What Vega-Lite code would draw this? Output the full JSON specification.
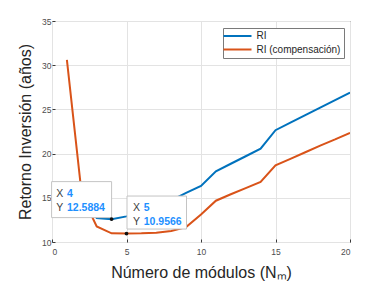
{
  "$schema": "https://vega.github.io/schema/vega-lite/v6.json",
  "width": 298,
  "height": 221,
  "autosize": {"type": "none"},
  "padding": {"left": 52, "top": 21, "right": 32, "bottom": 51},
  "background": "white",
  "config": {
    "font": "Liberation Sans",
    "view": {"stroke": "#3a3a3a", "strokeWidth": 1}
  },
  "datasets": {
    "series": [
      {"n": 2, "valor": 16.0, "serie": "RI"},
      {"n": 3, "valor": 12.7, "serie": "RI"},
      {"n": 4, "valor": 12.5884, "serie": "RI"},
      {"n": 5, "valor": 12.9, "serie": "RI"},
      {"n": 6, "valor": 13.35, "serie": "RI"},
      {"n": 7, "valor": 13.95, "serie": "RI"},
      {"n": 8, "valor": 14.7, "serie": "RI"},
      {"n": 9, "valor": 15.55, "serie": "RI"},
      {"n": 10, "valor": 16.35, "serie": "RI"},
      {"n": 11, "valor": 18.0, "serie": "RI"},
      {"n": 12, "valor": 18.85, "serie": "RI"},
      {"n": 13, "valor": 19.7, "serie": "RI"},
      {"n": 14, "valor": 20.55, "serie": "RI"},
      {"n": 15, "valor": 22.65, "serie": "RI"},
      {"n": 16, "valor": 23.5, "serie": "RI"},
      {"n": 17, "valor": 24.35, "serie": "RI"},
      {"n": 18, "valor": 25.2, "serie": "RI"},
      {"n": 19, "valor": 26.05, "serie": "RI"},
      {"n": 20, "valor": 26.9, "serie": "RI"},
      {"n": 1, "valor": 30.6, "serie": "RI (compensación)"},
      {"n": 2, "valor": 15.3, "serie": "RI (compensación)"},
      {"n": 3, "valor": 11.75, "serie": "RI (compensación)"},
      {"n": 4, "valor": 10.98, "serie": "RI (compensación)"},
      {"n": 5, "valor": 10.9566, "serie": "RI (compensación)"},
      {"n": 6, "valor": 10.98, "serie": "RI (compensación)"},
      {"n": 7, "valor": 11.05, "serie": "RI (compensación)"},
      {"n": 8, "valor": 11.25, "serie": "RI (compensación)"},
      {"n": 9, "valor": 11.7, "serie": "RI (compensación)"},
      {"n": 10, "valor": 13.1, "serie": "RI (compensación)"},
      {"n": 11, "valor": 14.67, "serie": "RI (compensación)"},
      {"n": 12, "valor": 15.4, "serie": "RI (compensación)"},
      {"n": 13, "valor": 16.1, "serie": "RI (compensación)"},
      {"n": 14, "valor": 16.8, "serie": "RI (compensación)"},
      {"n": 15, "valor": 18.67, "serie": "RI (compensación)"},
      {"n": 16, "valor": 19.4, "serie": "RI (compensación)"},
      {"n": 17, "valor": 20.15, "serie": "RI (compensación)"},
      {"n": 18, "valor": 20.9, "serie": "RI (compensación)"},
      {"n": 19, "valor": 21.6, "serie": "RI (compensación)"},
      {"n": 20, "valor": 22.35, "serie": "RI (compensación)"}
    ],
    "tips": [
      {"tip": "A", "n": 4, "valor": 12.5884},
      {"tip": "B", "n": 5, "valor": 10.9566}
    ]
  },
  "encoding": {
    "x": {
      "field": "n",
      "type": "quantitative",
      "scale": {"domain": [0, 20], "nice": false},
      "axis": {
        "values": [0, 5, 10, 15, 20],
        "format": "d",
        "grid": true,
        "gridColor": "#e3e3e3",
        "domain": false,
        "ticks": true,
        "tickSize": -3,
        "tickColor": "#3a3a3a",
        "labelFontSize": 8.5,
        "labelColor": "#4d4d4d",
        "labelPadding": 8,
        "title": "Número de módulos (Nₘ)",
        "titleFontSize": 16,
        "titleFontWeight": "normal",
        "titleColor": "#262626",
        "titleBaseline": "alphabetic",
        "titleX": 149,
        "titleY": 35
      }
    },
    "y": {
      "field": "valor",
      "type": "quantitative",
      "scale": {"domain": [10, 35], "nice": false, "zero": false},
      "axis": {
        "values": [10, 15, 20, 25, 30, 35],
        "grid": true,
        "gridColor": "#e3e3e3",
        "domain": false,
        "ticks": true,
        "tickSize": -3,
        "tickColor": "#3a3a3a",
        "labelFontSize": 8.5,
        "labelColor": "#4d4d4d",
        "labelPadding": 4,
        "title": "Retorno Inversión (años)",
        "titleFontSize": 16,
        "titleFontWeight": "normal",
        "titleColor": "#262626",
        "titleBaseline": "alphabetic",
        "titleAngle": -90,
        "titleX": -22,
        "titleY": 110.5
      }
    }
  },
  "layer": [
    {
      "data": {"name": "series"},
      "mark": {"type": "line", "strokeWidth": 2, "clip": true},
      "encoding": {
        "color": {
          "field": "serie",
          "type": "nominal",
          "scale": {"domain": ["RI", "RI (compensación)"], "range": ["#0072BD", "#D95319"]},
          "legend": {
            "orient": "none",
            "legendX": 171,
            "legendY": 7,
            "title": null,
            "fillColor": "white",
            "strokeColor": "#7a7a7a",
            "padding": 3,
            "symbolType": "M-4,0H4",
            "symbolSize": 49,
            "symbolStrokeWidth": 2,
            "symbolOffset": 6.5,
            "labelOffset": 14,
            "labelFontSize": 10,
            "labelColor": "#262626",
            "rowPadding": 3.5
          }
        }
      }
    },
    {
      "data": {"name": "tips"},
      "transform": [{"filter": "datum.tip === 'A'"}],
      "mark": {"type": "rect", "fill": "white", "stroke": "#c4c4c4", "strokeWidth": 1, "xOffset": -60, "x2Offset": 0, "yOffset": -37.5, "y2Offset": -1.5},
      "encoding": {"x2": {"field": "n"}, "y2": {"field": "valor"}}
    },
    {
      "data": {"name": "tips"},
      "transform": [{"filter": "datum.tip === 'B'"}],
      "mark": {"type": "rect", "fill": "white", "stroke": "#c4c4c4", "strokeWidth": 1, "xOffset": 0.5, "x2Offset": 60, "yOffset": -37.5, "y2Offset": -4.5},
      "encoding": {"x2": {"field": "n"}, "y2": {"field": "valor"}}
    },
    {
      "data": {"name": "tips"},
      "transform": [{"filter": "datum.tip === 'A'"}],
      "mark": {"type": "text", "text": "X", "align": "left", "baseline": "alphabetic", "dx": -55.3, "dy": -22, "fontSize": 10.5, "color": "#404040"}
    },
    {
      "data": {"name": "tips"},
      "transform": [{"filter": "datum.tip === 'A'"}],
      "mark": {"type": "text", "text": "Y", "align": "left", "baseline": "alphabetic", "dx": -55.3, "dy": -8, "fontSize": 10.5, "color": "#404040"}
    },
    {
      "data": {"name": "tips"},
      "transform": [{"filter": "datum.tip === 'A'"}],
      "mark": {"type": "text", "align": "left", "baseline": "alphabetic", "dx": -44.6, "dy": -22, "fontSize": 10.5, "fontWeight": "bold", "color": "#1E90FF"},
      "encoding": {"text": {"field": "n", "type": "quantitative", "format": "d"}}
    },
    {
      "data": {"name": "tips"},
      "transform": [{"filter": "datum.tip === 'A'"}],
      "mark": {"type": "text", "align": "left", "baseline": "alphabetic", "dx": -44.6, "dy": -8, "fontSize": 10.5, "fontWeight": "bold", "color": "#1E90FF"},
      "encoding": {"text": {"field": "valor", "type": "quantitative", "format": ".4f"}}
    },
    {
      "data": {"name": "tips"},
      "transform": [{"filter": "datum.tip === 'B'"}],
      "mark": {"type": "text", "text": "X", "align": "left", "baseline": "alphabetic", "dx": 6.5, "dy": -22.5, "fontSize": 10.5, "color": "#404040"}
    },
    {
      "data": {"name": "tips"},
      "transform": [{"filter": "datum.tip === 'B'"}],
      "mark": {"type": "text", "text": "Y", "align": "left", "baseline": "alphabetic", "dx": 6.5, "dy": -8.5, "fontSize": 10.5, "color": "#404040"}
    },
    {
      "data": {"name": "tips"},
      "transform": [{"filter": "datum.tip === 'B'"}],
      "mark": {"type": "text", "align": "left", "baseline": "alphabetic", "dx": 17.2, "dy": -22.5, "fontSize": 10.5, "fontWeight": "bold", "color": "#1E90FF"},
      "encoding": {"text": {"field": "n", "type": "quantitative", "format": "d"}}
    },
    {
      "data": {"name": "tips"},
      "transform": [{"filter": "datum.tip === 'B'"}],
      "mark": {"type": "text", "align": "left", "baseline": "alphabetic", "dx": 17.2, "dy": -8.5, "fontSize": 10.5, "fontWeight": "bold", "color": "#1E90FF"},
      "encoding": {"text": {"field": "valor", "type": "quantitative", "format": ".4f"}}
    },
    {
      "data": {"name": "tips"},
      "mark": {"type": "point", "filled": true, "color": "#111111", "size": 14, "opacity": 1}
    }
  ]
}
